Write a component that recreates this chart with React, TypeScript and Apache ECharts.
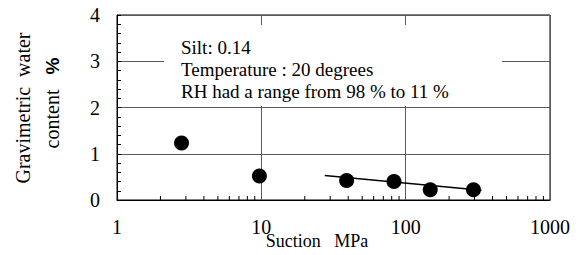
import React, { useEffect, useRef } from "react";
import * as echarts from "echarts";

const suction = [2.8, 9.7, 39, 83, 148, 295];
const waterContent = [1.23, 0.52, 0.42, 0.4, 0.22, 0.22];
const fitSuction = [27.5, 335];
const fitWater = [0.53, 0.21];
const xMinorTicks = [2, 3, 4, 5, 6, 7, 8, 9, 20, 30, 40, 50, 60, 70, 80, 90, 200, 300, 400, 500, 600, 700, 800, 900];
const noteLines = ["Silt: 0.14", "Temperature : 20 degrees", "RH had a range from 98 % to 11 %"];
const xTitle = "Suction   MPa";
const yTitle1 = "Gravimetric  water";
const yTitle2 = "content";

const SERIF = "Liberation Serif";
const SANS = "Liberation Sans";

export default function App() {
  const ref = useRef<HTMLDivElement>(null);
  useEffect(() => {
    if (!ref.current) return;
    const chart = echarts.init(ref.current, null, { renderer: "svg" });
    const txt = (x: number, y: number, text: string, size: number, align: string, rotation = 0) => ({
      type: "text",
      z: 101,
      x,
      y,
      rotation,
      style: {
        text,
        fill: "#000",
        fontFamily: SERIF,
        fontSize: size,
        textAlign: align,
        textVerticalAlign: "middle",
        align,
        verticalAlign: "middle",
      },
    });
    chart.setOption({
      animation: false,
      backgroundColor: "#fff",
      grid: { left: 117, top: 15, right: 30, bottom: 55, show: true, borderColor: "#000", borderWidth: 1, backgroundColor: "transparent" },
      xAxis: {
        type: "log",
        logBase: 10,
        min: 1,
        max: 1000,
        axisLine: { show: true, lineStyle: { color: "#000", width: 1 } },
        axisTick: { show: false },
        axisLabel: { color: "#000", fontFamily: SERIF, fontSize: 20, margin: 17, formatter: (v: number) => String(Math.round(v)) },
        splitLine: { show: true, lineStyle: { color: "#5a5a5a", width: 1 } },
      },
      yAxis: {
        type: "value",
        min: 0,
        max: 4,
        interval: 1,
        axisLine: { show: true, lineStyle: { color: "#000", width: 1 } },
        axisTick: { show: true, inside: true, length: 4, lineStyle: { color: "#000" } },
        minorTick: { show: true, splitNumber: 5, length: 4, lineStyle: { color: "#000" } },
        axisLabel: { color: "#000", fontFamily: SERIF, fontSize: 20, margin: 17 },
        splitLine: { show: true, lineStyle: { color: "#5a5a5a", width: 1 } },
      },
      series: [
        {
          type: "custom",
          data: xMinorTicks.map((v) => [v, 0]),
          renderItem: (params: any, api: any) => {
            const p = api.coord([api.value(0), 0]);
            return {
              type: "line",
              shape: { x1: p[0], y1: p[1], x2: p[0], y2: p[1] - 4 },
              style: { stroke: "#000", lineWidth: 1 },
            };
          },
          silent: true,
          z: 3,
        },
        {
          type: "line",
          data: fitSuction.map((v, i) => [v, fitWater[i]]),
          symbol: "none",
          lineStyle: { color: "#000", width: 1.5 },
          z: 4,
        },
        {
          type: "scatter",
          data: suction.map((v, i) => [v, waterContent[i]]),
          symbolSize: 15,
          itemStyle: { color: "#000", opacity: 1 },
          z: 5,
        },
      ],
      graphic: [
        {
          type: "rect",
          z: 100,
          shape: { x: 164, y: 25, width: 338, height: 81 },
          style: { fill: "#fff" },
        },
        ...noteLines.map((t, i) => txt(181, [47, 69, 91][i], t, 19, "left")),
        txt(317, 241, xTitle, 18, "center"),
        txt(23, 108, yTitle1, 20, "center", Math.PI / 2),
        {
          type: "text",
          z: 101,
          x: 52,
          y: 103,
          rotation: Math.PI / 2,
          style: {
            text: `{a|${yTitle2}}   {b|%}`,
            rich: {
              a: { fontFamily: SERIF, fontSize: 20, fill: "#000", color: "#000" },
              b: { fontFamily: SANS, fontSize: 19, fontWeight: "bold", fill: "#000", color: "#000" },
            },
            fill: "#000",
            fontFamily: SERIF,
            fontSize: 20,
            textAlign: "center",
            textVerticalAlign: "middle",
            align: "center",
            verticalAlign: "middle",
          },
        },
      ],
    });
    return () => chart.dispose();
  }, []);
  return <div ref={ref} style={{ width: 580, height: 255, position: "absolute", left: 0, top: 0 }} />;
}
